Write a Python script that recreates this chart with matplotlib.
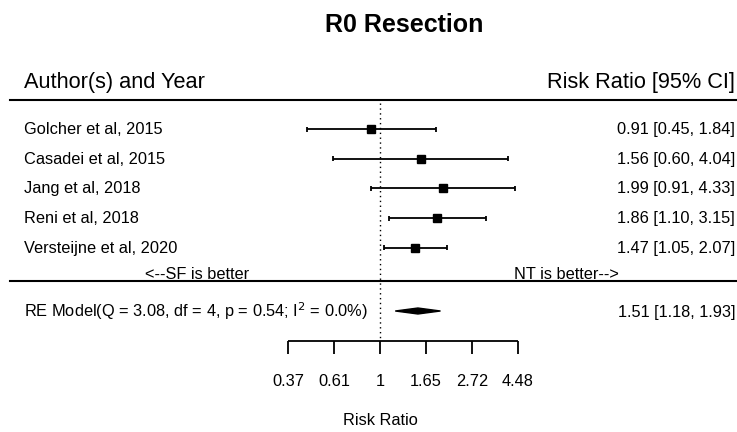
import numpy as np
import matplotlib.pyplot as plt
from matplotlib.transforms import blended_transform_factory

plt.rcParams['font.family'] = ['Liberation Sans', 'DejaVu Sans']

# study data
studies = ['Golcher et al, 2015', 'Casadei et al, 2015', 'Jang et al, 2018',
           'Reni et al, 2018', 'Versteijne et al, 2020']
rr = [0.91, 1.56, 1.99, 1.86, 1.47]
ci_low = [0.45, 0.60, 0.91, 1.10, 1.05]
ci_high = [1.84, 4.04, 4.33, 3.15, 2.07]

# random effects summary
re_est, re_low, re_high = 1.51, 1.18, 1.93
re_label = 'RE Model(Q = 3.08, df = 4, p = 0.54; I$^2$ = 0.0%)'

tick_vals = np.exp([-1, -0.5, 0, 0.5, 1, 1.5])
tick_labels = ['0.37', '0.61', '1', '1.65', '2.72', '4.48']

W, H = 737, 432
fig = plt.figure(figsize=(W / 100, H / 100), dpi=100)
ax = fig.add_axes([0, 0, 1, 1])
ax.set_xscale('log')
# x = 1 sits at pixel 380, 92 px per log unit
ax.set_xlim(np.exp(-380 / 92), np.exp((W - 380) / 92))
ax.set_ylim(H, 0)
ax.axis('off')

tr = blended_transform_factory(ax.transAxes, ax.transData)

row_y = 129 + 29.7 * np.arange(len(studies))
re_y = 311
axis_y = 341
fs = 11.8

# title and header
ax.text(404 / W, 32, 'R0 Resection', transform=tr, ha='center', va='baseline',
        fontsize=18, fontweight='bold')
ax.text(24 / W, 88, 'Author(s) and Year', transform=tr, ha='left', va='baseline', fontsize=15.7)
ax.text(735 / W, 88, 'Risk Ratio [95% CI]', transform=tr, ha='right', va='baseline', fontsize=15.7)
ax.plot([10 / W, 1], [99.5, 99.5], transform=tr, color='black', lw=1.5)
ax.plot([10 / W, 1], [281, 281], transform=tr, color='black', lw=1.5)

# reference line
ax.vlines(1, 103, axis_y, colors='black', linestyles=(0, (1, 2.5)), lw=1)

# studies
ax.hlines(row_y, ci_low, ci_high, colors='black', lw=1.3)
ax.vlines(ci_low, row_y - 2.5, row_y + 2.5, colors='black', lw=1.3)
ax.vlines(ci_high, row_y - 2.5, row_y + 2.5, colors='black', lw=1.3)
ax.plot(rr, row_y, 's', ms=5.8, color='black')

for y, name, m, lo, hi in zip(row_y, studies, rr, ci_low, ci_high):
    ax.text(24 / W, y + 5, name, transform=tr, ha='left', va='baseline', fontsize=fs)
    ax.text(735 / W, y + 5, f'{m:.2f} [{lo:.2f}, {hi:.2f}]', transform=tr,
            ha='right', va='baseline', fontsize=fs)

ax.text(197 / W, 279, '<--SF is better', transform=tr, ha='center', va='baseline', fontsize=fs)
ax.text(566 / W, 279, 'NT is better-->', transform=tr, ha='center', va='baseline', fontsize=fs)

# summary diamond
ax.fill([re_low, re_est, re_high, re_est], [re_y, re_y - 3, re_y, re_y + 3], color='black')
ax.text(24 / W, re_y + 6, re_label, transform=tr, ha='left', va='baseline', fontsize=fs)
ax.text(735 / W, re_y + 6, f'{re_est:.2f} [{re_low:.2f}, {re_high:.2f}]', transform=tr,
        ha='right', va='baseline', fontsize=fs)

# x axis
ax.hlines(axis_y, tick_vals[0], tick_vals[-1], colors='black', lw=1.3)
ax.vlines(tick_vals, axis_y, axis_y + 13, colors='black', lw=1.3)
for v, lab in zip(tick_vals, tick_labels):
    ax.text(v, 386, lab, ha='center', va='baseline', fontsize=fs)
ax.text(1, 425, 'Risk Ratio', ha='center', va='baseline', fontsize=fs)

fig.savefig('out.png', dpi=100)
